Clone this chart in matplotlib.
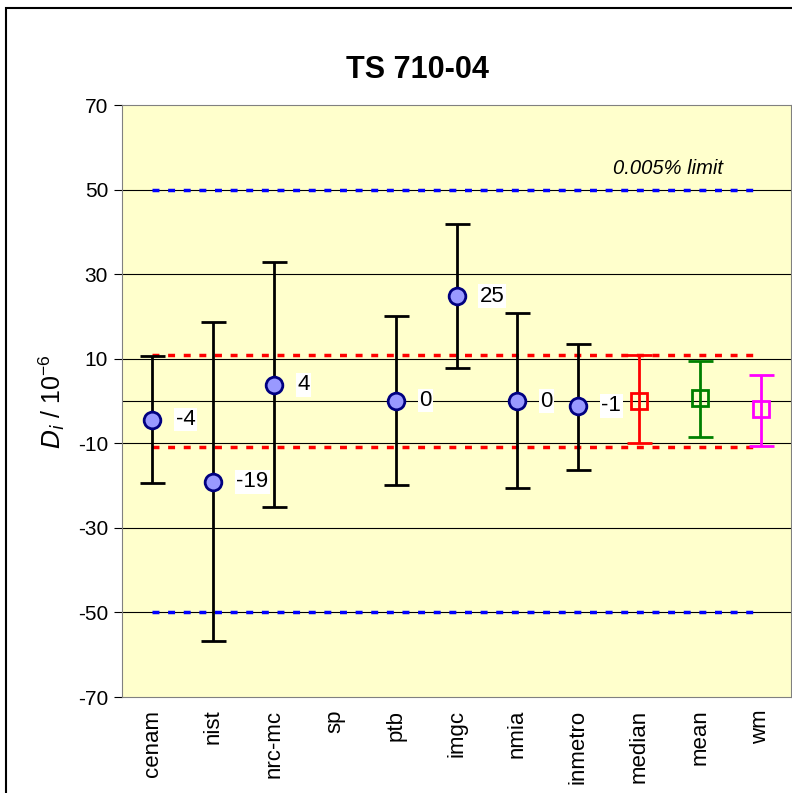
import matplotlib
matplotlib.use('Agg')
import matplotlib.pyplot as plt
import numpy as np

plt.rcParams['font.family'] = ['Liberation Sans', 'DejaVu Sans']
plt.rcParams['axes.unicode_minus'] = False

# data
labs = ['cenam', 'nist', 'nrc-mc', 'sp', 'ptb', 'imgc', 'nmia', 'inmetro', 'median', 'mean', 'wm']
lab_vals = [-4.4, -19.1, 3.8, np.nan, 0.1, 24.8, 0.0, -1.1]
lab_hi = [10.6, 18.7, 32.9, np.nan, 20.1, 41.8, 20.8, 13.5]
lab_lo = [-19.4, -56.7, -25.0, np.nan, -19.9, 7.8, -20.6, -16.3]
lab_text = ['-4', '-19', '4', '', '0', '25', '0', '-1']

stat_vals = [0.0, 0.7, -1.9]
stat_hi = [10.9, 9.5, 6.1]
stat_lo = [-9.9, -8.5, -10.6]
stat_cols = ['red', 'green', 'magenta']

limit = 50
band = 10.9

fig = plt.figure(figsize=(7.92, 7.93), dpi=100)
ax = fig.add_axes([0.154, 0.121, 0.845, 0.7465])
ax.set_facecolor('#FFFFCC')

x = np.arange(len(labs)) + 0.5

# grid lines
for g in [-50, -30, -10, 0, 10, 30, 50]:
    ax.axhline(g, color='black', lw=0.8, zorder=1)

ax.plot([x[0], x[-1]], [limit, limit], color='blue', ls=(0, (2, 2.5)), lw=2.5, zorder=2)
ax.plot([x[0], x[-1]], [-limit, -limit], color='blue', ls=(0, (2, 2.5)), lw=2.5, zorder=2)
ax.plot([x[0], x[-1]], [band, band], color='red', ls=(0, (2, 2.5)), lw=2.5, zorder=2)
ax.plot([x[0], x[-1]], [-band, -band], color='red', ls=(0, (2, 2.5)), lw=2.5, zorder=2)
ax.text(8.98, 55, '0.005% limit', style='italic', fontsize=14.5, ha='center', va='center')

for i in range(len(lab_vals)):
    if np.isnan(lab_vals[i]):
        continue
    ax.errorbar(x[i], lab_vals[i],
                yerr=[[lab_vals[i] - lab_lo[i]], [lab_hi[i] - lab_vals[i]]],
                fmt='o', ms=12, mfc='#9999FF', mec='#000080', mew=2,
                ecolor='black', elinewidth=2, capsize=9, capthick=2, zorder=4)
    ax.text(x[i] + 0.38, lab_vals[i], lab_text[i], fontsize=16, va='center', ha='left',
            bbox=dict(facecolor='white', edgecolor='none', pad=1), zorder=5)

for j in range(len(stat_vals)):
    k = len(lab_vals) + j
    ax.errorbar(x[k], stat_vals[j],
                yerr=[[stat_vals[j] - stat_lo[j]], [stat_hi[j] - stat_vals[j]]],
                fmt='s', ms=12, mfc='none', mec=stat_cols[j], mew=2,
                ecolor=stat_cols[j], elinewidth=2, capsize=9, capthick=2, zorder=4)

ax.set_xlim(0, len(labs))
ax.set_ylim(-70, 70)
ax.set_yticks(np.arange(-70, 71, 20))
ax.tick_params(axis='y', labelsize=15, length=6, direction='out', pad=4)
ax.set_xticks(x)
ax.set_xticklabels(labs, rotation=90, fontsize=16)
ax.tick_params(axis='x', length=0, pad=9)
for s in ['top', 'right', 'bottom', 'left']:
    ax.spines[s].set_color('#808080')

ax.set_ylabel(r'$D_i$ / 10$^{\mathregular{-6}}$', fontsize=18, labelpad=8)
fig.text(417/792, 1 - 70/793, 'TS 710-04', fontsize=22, fontweight='bold', ha='center', va='center')

# outer frame
fig.patches.append(plt.Rectangle((6/792, -0.1), 2, 1.1 - 8/793, transform=fig.transFigure,
                                 fill=False, edgecolor='black', lw=1.5))

fig.savefig('out.png', dpi=100)
